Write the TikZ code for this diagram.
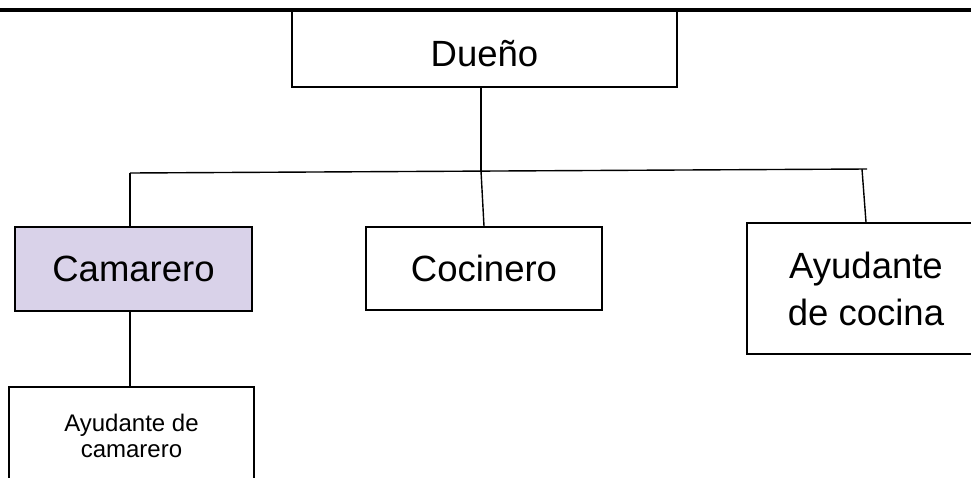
\documentclass[tikz,border=0pt]{standalone}
\usepackage{fontspec}
\setmainfont{Liberation Sans}
\usetikzlibrary{positioning,calc}

\definecolor{lavanda}{RGB}{217,210,233}

\begin{document}
\begin{tikzpicture}[
    x=1pt, y=-1pt,
    puesto/.style={rectangle, draw, line width=1.5pt, inner sep=0pt, align=center,
        font=\fontsize{36.5}{47}\selectfont},
    chico/.style={puesto, font=\fontsize{24}{26.5}\selectfont},
    link/.style={line width=1.4pt}
]
    \useasboundingbox (0,0) rectangle (971,477);

    % Top rule
    \draw[line width=4pt] (0,10) -- (971,10);

    % Owner
    \node[puesto, minimum width=385pt, minimum height=77pt,
          text height=35pt, text depth=0pt] (duenio) at (484.5,48.5) {Dueño};

    % Second level
    \node[puesto, fill=lavanda, minimum width=237pt, minimum height=84pt] (camarero) at (133.5,269) {Camarero};
    \node[puesto, minimum width=236pt, minimum height=83pt] (cocinero) at (484,268.5) {Cocinero};
    \node[puesto, minimum width=238pt, minimum height=131pt] (ayucocina) at (866,288.5) {Ayudante\\de cocina};

    % Third level
    \node[chico, minimum width=245pt, minimum height=98pt] (ayucamarero) at (131.5,436) {Ayudante de\\camarero};

    % Bus points
    \coordinate (busL) at (130,173);
    \coordinate (busM) at (481,171);
    \coordinate (busR) at (867,169);
    \coordinate (dropR) at (862,169.1);

    % Links
    \draw[link] (duenio.south -| busM) -- (busM);
    \draw[link] (busL) -- (busR);
    \draw[link] (busL) -- (busL |- camarero.north);
    \draw[link] (busM) -- (cocinero.north);
    \draw[link] (dropR) -- (ayucocina.north);
    \draw[link] (camarero.south -| busL) -- (ayucamarero.north -| busL);

\end{tikzpicture}
\end{document}
